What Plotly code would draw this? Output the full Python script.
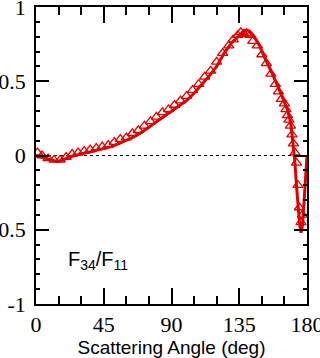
import plotly.graph_objects as go

# Model curve: scattering angle (deg) and F34/F11
model_angle = [0, 3, 6, 10, 14, 18, 22, 26, 30, 35, 40, 45, 50, 55, 60, 65, 70, 75,
               80, 85, 90, 95, 100, 105, 110, 115, 120, 125, 130, 135, 138, 140,
               142, 145, 148, 151, 154, 157, 160, 163, 165, 167, 168, 169, 170,
               171, 172, 173, 174, 175, 176, 177, 178, 179, 180]
model_f34 = [0.00, -0.01, -0.02, -0.03, -0.04, -0.03, -0.01, 0.00, 0.01, 0.02, 0.03,
             0.045, 0.06, 0.08, 0.10, 0.125, 0.155, 0.19, 0.225, 0.26, 0.295, 0.33,
             0.37, 0.42, 0.475, 0.535, 0.60, 0.69, 0.76, 0.81, 0.835, 0.845, 0.835,
             0.80, 0.75, 0.68, 0.62, 0.55, 0.48, 0.41, 0.36, 0.31, 0.27, 0.23, 0.15,
             0.06, -0.05, -0.20, -0.33, -0.45, -0.52, -0.47, -0.32, -0.12, 0.00]

# Measured points
meas_angle = [1, 4, 8, 12, 16, 20, 24, 28, 32, 36, 40, 44, 48, 52, 56, 60, 64, 68,
              72, 76, 80, 84, 88, 92, 96, 100, 104, 108, 112, 116, 120, 124, 128,
              131, 134, 136, 138, 140, 142, 144, 147, 150, 153, 156, 159, 161, 163,
              165, 166, 167, 168, 169, 170, 171, 172, 173, 174, 175, 176, 177]
meas_f34 = [0.02, 0.00, -0.02, -0.03, -0.03, -0.01, 0.01, 0.02, 0.03, 0.04, 0.05,
            0.06, 0.07, 0.09, 0.11, 0.12, 0.15, 0.17, 0.20, 0.23, 0.26, 0.29, 0.31,
            0.34, 0.37, 0.40, 0.44, 0.48, 0.53, 0.57, 0.63, 0.69, 0.74, 0.78, 0.81,
            0.83, 0.82, 0.82, 0.81, 0.77, 0.74, 0.68, 0.62, 0.55, 0.48, 0.43, 0.38,
            0.35, 0.31, 0.27, 0.24, 0.20, 0.14, 0.08, 0.02, -0.05, -0.20, -0.35,
            -0.45, -0.40]

x_ticks = [0, 45, 90, 135, 180]
x_labels = ["0", "45", "90", "135", "180"]
y_ticks = [-1, -0.5, 0, 0.5, 1]
y_labels = ["-1", "-0.5", "0", "0.5", "1"]

RED = "#e00000"

fig = go.Figure()

# dotted zero line
fig.add_trace(go.Scatter(x=[0, 180], y=[0, 0], mode="lines",
                         line=dict(color="black", width=1.2, dash="dot"),
                         hoverinfo="skip", showlegend=False))

fig.add_trace(go.Scatter(x=meas_angle, y=meas_f34, mode="markers",
                         marker=dict(symbol="triangle-up-open", size=9, color=RED,
                                     line=dict(color=RED, width=1.3)),
                         showlegend=False))

fig.add_trace(go.Scatter(x=model_angle, y=model_f34, mode="lines",
                         line=dict(color=RED, width=3),
                         showlegend=False))

axis_common = dict(showline=True, linecolor="black", linewidth=1.5, mirror="ticks",
                   ticks="inside", tickcolor="black", tickwidth=1.5,
                   showgrid=False, zeroline=False, ticklabeloverflow="allow",
                   automargin=False)

fig.update_xaxes(range=[0, 180], tickvals=x_ticks, ticktext=x_labels, ticklen=16,
                 minor=dict(dtick=15, tick0=0, ticks="inside", ticklen=8,
                            tickcolor="black", tickwidth=1.5),
                 tickfont=dict(family="Liberation Serif", size=22, color="black"),
                 title=dict(text="Scattering Angle (deg)", standoff=2,
                            font=dict(family="Liberation Sans", size=19, color="black")),
                 **axis_common)
fig.update_yaxes(range=[-1, 1], tickvals=y_ticks, ticktext=y_labels, ticklen=13,
                 minor=dict(dtick=0.1, tick0=0, ticks="inside", ticklen=4,
                            tickcolor="black", tickwidth=1.5),
                 tickfont=dict(family="Liberation Serif", size=22, color="black"),
                 ticklabelstandoff=4,
                 **axis_common)

fig.add_annotation(x=0.11, y=0.145, xref="paper", yref="paper", xanchor="left",
                   yanchor="middle", showarrow=False,
                   text="F<sub>34</sub>/F<sub>11</sub>",
                   font=dict(family="Liberation Sans", size=20, color="black"))

fig.update_layout(width=320, height=358, margin=dict(l=36, r=13, t=7, b=54),
                  paper_bgcolor="white", plot_bgcolor="white")

fig.write_html("out.html")
